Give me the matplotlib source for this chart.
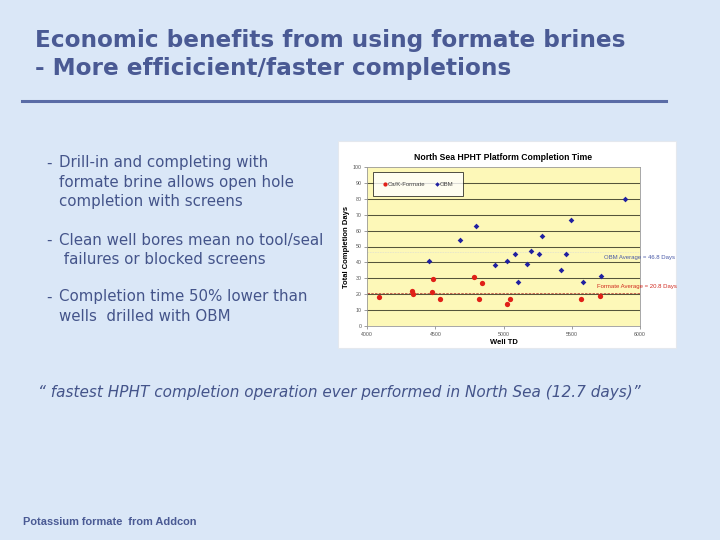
import matplotlib
matplotlib.use("Agg")
import matplotlib.pyplot as plt
from matplotlib.patches import Rectangle

# well TD (m) and total completion days
formate_td = [4088, 4328, 4338, 4472, 4485, 4531, 4783, 4823, 4840, 5028, 5048, 5572, 5711]
formate_days = [18.2, 22.1, 20.3, 21.3, 29.9, 17.3, 30.9, 16.9, 27.3, 13.8, 17.3, 16.9, 18.8]
obm_td = [4453, 4683, 4796, 4935, 5028, 5084, 5109, 5175, 5202, 5263, 5280, 5425, 5461,
          5498, 5584, 5716, 5895]
obm_days = [40.7, 54.3, 62.6, 38.2, 40.9, 45.5, 28.0, 38.8, 47.2, 45.5, 56.4, 35.5, 45.1,
            66.6, 28.0, 31.5, 80.0]
obm_avg = 46.8
formate_avg = 20.8
x_ticks = [4000, 4500, 5000, 5500, 6000]
y_ticks = [0, 10, 20, 30, 40, 50, 60, 70, 80, 90, 100]

title_lines = ["Economic benefits from using formate brines",
               "- More efficicient/faster completions"]
bullets = [
    ["Drill-in and completing with", "formate brine allows open hole", "completion with screens"],
    ["Clean well bores mean no tool/seal", " failures or blocked screens"],
    ["Completion time 50% lower than", "wells  drilled with OBM"],
]
quote = "\u201c fastest HPHT completion operation ever performed in North Sea (12.7 days)\u201d"
footer = "Potassium formate  from Addcon"

plt.rcParams['font.family'] = ['Liberation Sans', 'DejaVu Sans']

W, H = 720, 540
fig = plt.figure(figsize=(7.2, 5.4), dpi=100, facecolor='#dae7f7')


def fx(x):
    return x / W


def fy(y):
    return 1 - y / H


slate = '#4a5a94'
text_col = '#44548a'
wide = ['DejaVu Sans']

# title
fig.text(fx(35), fy(41), title_lines[0], fontsize=16.7, fontweight='bold', color=slate,
         va='center', ha='left', family=wide)
fig.text(fx(35), fy(69), title_lines[1], fontsize=16.7, fontweight='bold', color=slate,
         va='center', ha='left', family=wide)
fig.add_artist(plt.Line2D([fx(22), fx(666)], [fy(101), fy(101)], color='#5a6ca6', lw=2.2))

# bullets
bullet_y = [163, 240, 297]
for by, lines in zip(bullet_y, bullets):
    fig.text(fx(46), fy(by), "-", fontsize=10.8, color=text_col, va='center', ha='left',
             family=wide)
    for i, line in enumerate(lines):
        fig.text(fx(59), fy(by + i * 19.2), line, fontsize=10.8, color=text_col,
                 va='center', ha='left', family=wide)

fig.text(fx(38), fy(393), quote, fontsize=10.95, style='italic', color=text_col,
         va='center', ha='left', family=wide)
fig.text(fx(23), fy(522), footer, fontsize=7.9, fontweight='bold', color=slate,
         va='center', ha='left')

# white chart panel
fig.add_artist(Rectangle((fx(338), fy(348)), 338 / W, 207 / H, transform=fig.transFigure,
                         facecolor='white', edgecolor='#e4e8ee', lw=0.8, zorder=0))

ax = fig.add_axes([fx(367.3), fy(326.3), 272.4 / W, 159.6 / H])
ax.set_facecolor('#fdf8b8')
ax.set_xlim(4000, 6000)
ax.set_ylim(0, 100)
ax.set_xticks(x_ticks)
ax.set_yticks(y_ticks)
ax.tick_params(labelsize=3.8, colors='#555555', length=2, width=0.4, pad=2)
for t in ax.get_xticklabels() + ax.get_yticklabels():
    t.set_color('#555555')
for s in ax.spines.values():
    s.set_color('#999999')
    s.set_linewidth(0.6)
for v in y_ticks[1:-1]:
    ax.axhline(v, color='#55553a', lw=0.75, zorder=1)

ax.axhline(obm_avg, color='#e6e6cc', lw=0.6, ls=(0, (2, 1)), zorder=1)
ax.axhline(formate_avg, color='#c05040', lw=0.6, ls=(0, (3, 1.5)), zorder=1)

ax.plot(formate_td, formate_days, 'o', color='#e02018', ms=3.8, mec='none',
        label='Ca/K-Formate', zorder=3)
ax.plot(obm_td, obm_days, 'D', color='#2020a0', ms=2.9, mec='none', label='OBM', zorder=3)

ax.text(5735, 43.2, 'OBM Average = %.1f Days' % obm_avg, fontsize=4.3, color='#4a5aa8',
        va='center', ha='left', clip_on=False, zorder=4)
ax.text(5690, 24.8, 'Formate Average = %.1f Days' % formate_avg, fontsize=4.3,
        color='#d02a20', va='center', ha='left', clip_on=False, zorder=4)

leg = ax.legend(loc='upper left', bbox_to_anchor=(0.01, 0.985), ncol=2, fontsize=4.3,
                frameon=True, fancybox=False, edgecolor='black', borderpad=1.6,
                handletextpad=0.1, handlelength=0.8, columnspacing=1.5, markerscale=0.8)
leg.get_frame().set_linewidth(0.6)
for t in leg.get_texts():
    t.set_color('#444444')

ax.set_title('North Sea HPHT Platform Completion Time', fontsize=6.2, fontweight='bold',
             pad=5)
ax.set_xlabel('Well TD', fontsize=5.5, fontweight='bold', labelpad=1.5)
ax.set_ylabel('Total Completion Days', fontsize=5.5, fontweight='bold', labelpad=2)

fig.savefig('out.png', dpi=100, facecolor=fig.get_facecolor())
